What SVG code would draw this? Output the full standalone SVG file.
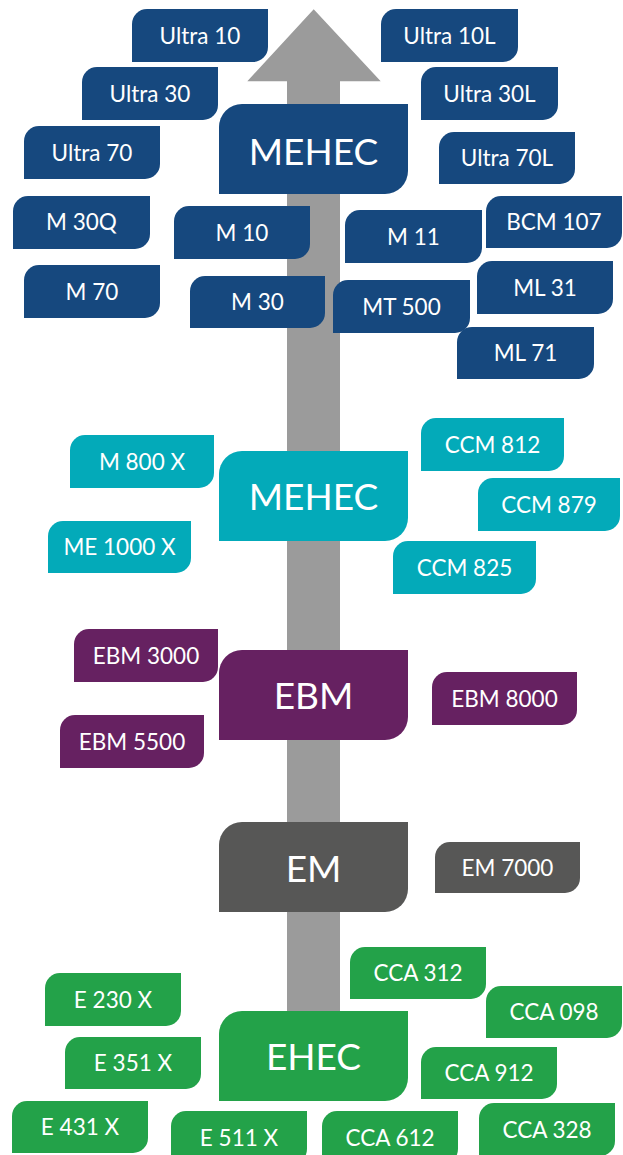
<svg xmlns="http://www.w3.org/2000/svg" width="623" height="1155" viewBox="0 0 623 1155">
<style>
.b{fill:#16487e}.c{fill:#03aab9}.p{fill:#662161}.g{fill:#575756}.gr{fill:#23a249}
text{font-family:Lato,"Open Sans","DejaVu Sans",sans-serif;fill:#fff;text-anchor:middle}
.s{font-size:22.5px}.L{font-size:37px}
</style>
<rect width="623" height="1155" fill="#fff"/>
<g id="arrow"><polygon points="313.7,9.3 380.7,81.3 340,81.3 340,1040 287,1040 287,81.3 247.3,81.3" fill="#9b9b9b"/></g>
<g id="connectors"/>
<g id="ultra10"><path class="b" d="M147,9H268V47A15,15 0 0 1 253,62H132V24A15,15 0 0 1 147,9Z"/><text class="s" x="200" y="44">Ultra 10</text></g>
<g id="ultra10l"><path class="b" d="M396,9H518V47A15,15 0 0 1 503,62H381V24A15,15 0 0 1 396,9Z"/><text class="s" x="449.5" y="44">Ultra 10L</text></g>
<g id="ultra30"><path class="b" d="M97,67H218V105A15,15 0 0 1 203,120H82V82A15,15 0 0 1 97,67Z"/><text class="s" x="150" y="102">Ultra 30</text></g>
<g id="ultra30l"><path class="b" d="M436,67H558V105A15,15 0 0 1 543,120H421V82A15,15 0 0 1 436,67Z"/><text class="s" x="489.5" y="102">Ultra 30L</text></g>
<g id="ultra70"><path class="b" d="M39,126H160V164A15,15 0 0 1 145,179H24V141A15,15 0 0 1 39,126Z"/><text class="s" x="92" y="161">Ultra 70</text></g>
<g id="ultra70l"><path class="b" d="M454,132H575V169A15,15 0 0 1 560,184H439V147A15,15 0 0 1 454,132Z"/><text class="s" x="507" y="166">Ultra 70L</text></g>
<g id="mehec-top"><path class="b" d="M242,104H408V171A23,23 0 0 1 385,194H219V127A23,23 0 0 1 242,104Z"/><text class="L" x="313.5" y="165">MEHEC</text></g>
<g id="m30q"><path class="b" d="M28,196H150V234A15,15 0 0 1 135,249H13V211A15,15 0 0 1 28,196Z"/><text class="s" x="81.5" y="230">M 30Q</text></g>
<g id="m10"><path class="b" d="M189,206H310V244A15,15 0 0 1 295,259H174V221A15,15 0 0 1 189,206Z"/><text class="s" x="242" y="241">M 10</text></g>
<g id="m70"><path class="b" d="M39,265H160V303A15,15 0 0 1 145,318H24V280A15,15 0 0 1 39,265Z"/><text class="s" x="92" y="300">M 70</text></g>
<g id="m30"><path class="b" d="M205,276H325V313A15,15 0 0 1 310,328H190V291A15,15 0 0 1 205,276Z"/><text class="s" x="257.5" y="310">M 30</text></g>
<g id="m11"><path class="b" d="M360,210H482V248A15,15 0 0 1 467,263H345V225A15,15 0 0 1 360,210Z"/><text class="s" x="413.5" y="245">M 11</text></g>
<g id="bcm107"><path class="b" d="M501,196H622V233A15,15 0 0 1 607,248H486V211A15,15 0 0 1 501,196Z"/><text class="s" x="554" y="230">BCM 107</text></g>
<g id="mt500"><path class="b" d="M348,280H470V318A15,15 0 0 1 455,333H333V295A15,15 0 0 1 348,280Z"/><text class="s" x="401.5" y="315">MT 500</text></g>
<g id="ml31"><path class="b" d="M492,261H613V299A15,15 0 0 1 598,314H477V276A15,15 0 0 1 492,261Z"/><text class="s" x="545" y="296">ML 31</text></g>
<g id="ml71"><path class="b" d="M472,327H594V364A15,15 0 0 1 579,379H457V342A15,15 0 0 1 472,327Z"/><text class="s" x="525.5" y="361">ML 71</text></g>
<g id="m800x"><path class="c" d="M85,435H214V473A15,15 0 0 1 199,488H70V450A15,15 0 0 1 85,435Z"/><text class="s" x="142" y="470">M 800 X</text></g>
<g id="me1000x"><path class="c" d="M63,521H191V558A15,15 0 0 1 176,573H48V536A15,15 0 0 1 63,521Z"/><text class="s" x="119.5" y="555">ME 1000 X</text></g>
<g id="mehec-mid"><path class="c" d="M242,451H408V518A23,23 0 0 1 385,541H219V474A23,23 0 0 1 242,451Z"/><text class="L" x="313.5" y="510">MEHEC</text></g>
<g id="ccm812"><path class="c" d="M436,418H564V456A15,15 0 0 1 549,471H421V433A15,15 0 0 1 436,418Z"/><text class="s" x="492.5" y="453">CCM 812</text></g>
<g id="ccm879"><path class="c" d="M493,478H620V516A15,15 0 0 1 605,531H478V493A15,15 0 0 1 493,478Z"/><text class="s" x="549" y="513">CCM 879</text></g>
<g id="ccm825"><path class="c" d="M408,541H536V579A15,15 0 0 1 521,594H393V556A15,15 0 0 1 408,541Z"/><text class="s" x="464.5" y="576">CCM 825</text></g>
<g id="ebm3000"><path class="p" d="M89,629H218V667A15,15 0 0 1 203,682H74V644A15,15 0 0 1 89,629Z"/><text class="s" x="146" y="664">EBM 3000</text></g>
<g id="ebm"><path class="p" d="M242,650H408V717A23,23 0 0 1 385,740H219V673A23,23 0 0 1 242,650Z"/><text class="L" x="313.5" y="709">EBM</text></g>
<g id="ebm5500"><path class="p" d="M75,715H204V753A15,15 0 0 1 189,768H60V730A15,15 0 0 1 75,715Z"/><text class="s" x="132" y="750">EBM 5500</text></g>
<g id="ebm8000"><path class="p" d="M447,672H577V710A15,15 0 0 1 562,725H432V687A15,15 0 0 1 447,672Z"/><text class="s" x="504.5" y="707">EBM 8000</text></g>
<g id="em"><path class="g" d="M242,822H408V889A23,23 0 0 1 385,912H219V845A23,23 0 0 1 242,822Z"/><text class="L" x="313.5" y="882">EM</text></g>
<g id="em7000"><path class="g" d="M450,842H580V878A15,15 0 0 1 565,893H435V857A15,15 0 0 1 450,842Z"/><text class="s" x="507.5" y="876">EM 7000</text></g>
<g id="e230x"><path class="gr" d="M60,973H181V1011A15,15 0 0 1 166,1026H45V988A15,15 0 0 1 60,973Z"/><text class="s" x="113" y="1008">E 230 X</text></g>
<g id="e351x"><path class="gr" d="M80,1037H201V1074A15,15 0 0 1 186,1089H65V1052A15,15 0 0 1 80,1037Z"/><text class="s" x="133" y="1071">E 351 X</text></g>
<g id="e431x"><path class="gr" d="M27,1101H148V1138A15,15 0 0 1 133,1153H12V1116A15,15 0 0 1 27,1101Z"/><text class="s" x="80" y="1135">E 431 X</text></g>
<g id="e511x"><path class="gr" d="M186,1111H307V1149A15,15 0 0 1 292,1164H171V1126A15,15 0 0 1 186,1111Z"/><text class="s" x="239" y="1146">E 511 X</text></g>
<g id="ehec"><path class="gr" d="M242,1011H408V1078A23,23 0 0 1 385,1101H219V1034A23,23 0 0 1 242,1011Z"/><text class="L" x="313.5" y="1070">EHEC</text></g>
<g id="cca312"><path class="gr" d="M365,947H486V984A15,15 0 0 1 471,999H350V962A15,15 0 0 1 365,947Z"/><text class="s" x="418" y="981">CCA 312</text></g>
<g id="cca098"><path class="gr" d="M501,986H622V1023A15,15 0 0 1 607,1038H486V1001A15,15 0 0 1 501,986Z"/><text class="s" x="554" y="1020">CCA 098</text></g>
<g id="cca912"><path class="gr" d="M436,1047H557V1084A15,15 0 0 1 542,1099H421V1062A15,15 0 0 1 436,1047Z"/><text class="s" x="489" y="1081">CCA 912</text></g>
<g id="cca612"><path class="gr" d="M337,1111H458V1149A15,15 0 0 1 443,1164H322V1126A15,15 0 0 1 337,1111Z"/><text class="s" x="390" y="1146">CCA 612</text></g>
<g id="cca328"><path class="gr" d="M494,1103H615V1141A15,15 0 0 1 600,1156H479V1118A15,15 0 0 1 494,1103Z"/><text class="s" x="547" y="1138">CCA 328</text></g>
</svg>
